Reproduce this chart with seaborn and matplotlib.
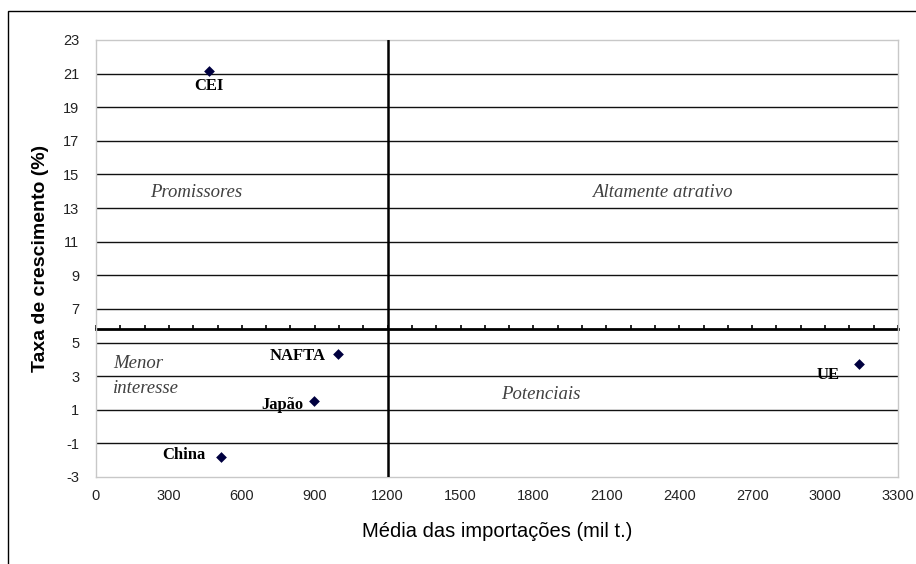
import numpy as np
import pandas as pd
import matplotlib
matplotlib.use("Agg")
import matplotlib.pyplot as plt
from matplotlib.patches import Rectangle
import seaborn as sns

# Data
blocos = ["CEI", "NAFTA", "Japão", "China", "UE"]
importacoes = [465, 996, 898, 514, 3141]      # mil t.
crescimento = [21.15, 4.3, 1.55, -1.8, 3.7]   # %

# label offsets (points) and alignment per bloco
label_pos = {
    "CEI":   ((0, -11), "center"),
    "NAFTA": ((-9, -1), "right"),
    "Japão": ((-8, -3), "right"),
    "China": ((-11, 1), "right"),
    "UE":    ((-14, -8), "right"),
}

quadrantes = ["Promissores", "Altamente atrativo", "Menor\ninteresse", "Potenciais"]
quad_x = [414, 2329, 70, 1829]
quad_y = [13.9, 13.9, 3.0, 1.9]
quad_ha = ["center", "center", "left", "center"]

corte_x = 1200
corte_y = 5.8
x_ticks = list(range(0, 3301, 300))
y_ticks = list(range(-3, 24, 2))

df = pd.DataFrame({"bloco": blocos, "importacoes": importacoes, "crescimento": crescimento})

sns.set_theme(style="white")
plt.rcParams["font.family"] = ["Liberation Sans", "DejaVu Sans"]
plt.rcParams["axes.unicode_minus"] = False

fig = plt.figure(figsize=(9.16, 5.64), dpi=100)
ax = fig.add_axes([96 / 916, 1 - 477 / 564, 802 / 916, 437 / 564])

sns.scatterplot(data=df, x="importacoes", y="crescimento", marker="D", s=30,
                color="#00003f", edgecolor="#00003f", linewidth=0, zorder=5, ax=ax)

ax.set_xlim(0, 3300)
ax.set_ylim(-3, 23)
ax.set_xticks(x_ticks)
ax.set_yticks(y_ticks)
ax.tick_params(axis="both", length=0, labelsize=10.5, labelcolor="#222222")
ax.tick_params(axis="x", pad=9)
ax.tick_params(axis="y", pad=12)

# horizontal gridlines (not on the border)
ax.yaxis.grid(True, color="#111111", linewidth=1.0)
gl = ax.yaxis.get_gridlines()
gl[0].set_visible(False)
gl[-1].set_visible(False)
ax.xaxis.grid(False)

for sp in ax.spines.values():
    sp.set_color("#c8c8c8")
    sp.set_linewidth(1.0)

# quadrant dividers
ax.axvline(corte_x, color="black", linewidth=1.8, zorder=3)
sec = ax.secondary_xaxis((corte_y - (-3)) / 26)
sec.set_xticks(np.arange(0, 3301, 100))
sec.tick_params(direction="in", length=3, width=1.2, color="black", labelbottom=False)
sec.spines["bottom"].set_linewidth(2)
sec.spines["bottom"].set_color("black")

for name, x, y in zip(blocos, importacoes, crescimento):
    off, ha = label_pos[name]
    ax.annotate(name, (x, y), xytext=off, textcoords="offset points",
                ha=ha, va="center", fontsize=12, fontweight="bold",
                family="Liberation Serif", color="black")

for txt, x, y, ha in zip(quadrantes, quad_x, quad_y, quad_ha):
    ax.text(x, y, txt, ha=ha, va="center", fontsize=13.5, style="italic",
            family="Liberation Serif", color="#404040", linespacing=1.6)

ax.set_xlabel("Média das importações (mil t.)", fontsize=14.5, labelpad=13)
ax.set_ylabel("Taxa de crescimento (%)", fontsize=14, fontweight="bold", labelpad=10)
ax.xaxis.label.set_color("black")
ax.yaxis.label.set_color("black")

# outer chart frame (cropped on right and bottom)
fig.add_artist(Rectangle((8 / 916, -0.2), 1.2, 1.2 - 11 / 564, transform=fig.transFigure,
                         fill=False, edgecolor="black", linewidth=1.0, clip_on=False))

fig.savefig("out.png", dpi=100, facecolor="white")
